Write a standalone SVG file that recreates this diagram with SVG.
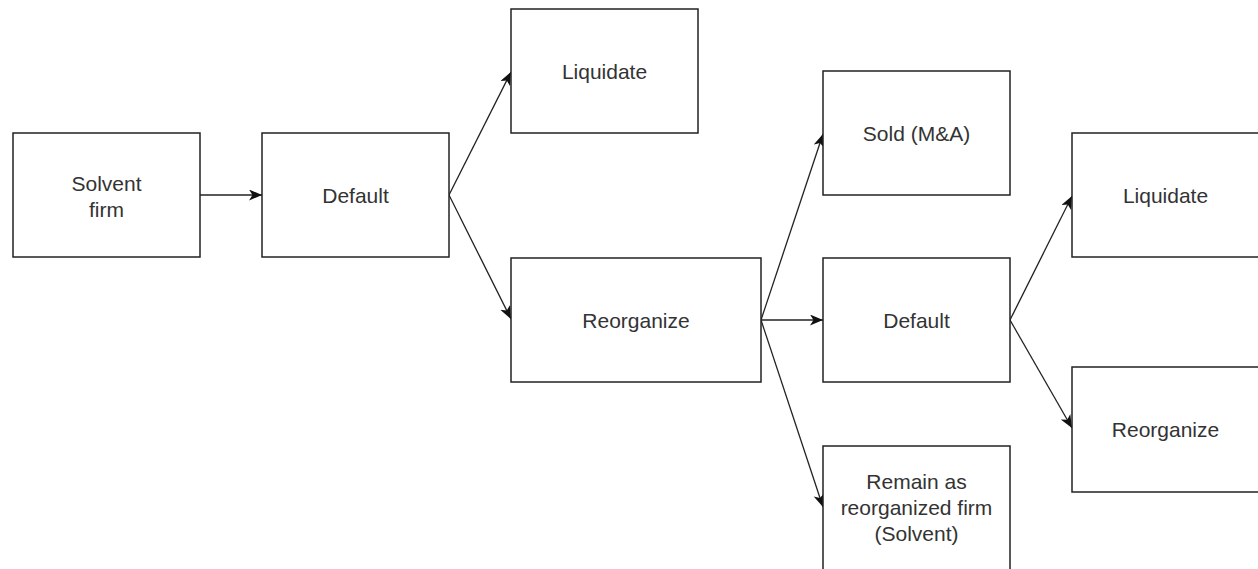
<svg xmlns="http://www.w3.org/2000/svg" width="1258" height="569" viewBox="0 0 1258 569">
  <style>
    .box { fill: #ffffff; stroke: #222222; stroke-width: 1.5; }
    .lbl { font-family: "Liberation Sans", Arial, sans-serif; font-size: 21px; fill: #333333; text-anchor: middle; }
    .edge { fill: none; stroke: #222222; stroke-width: 1.3; }
  </style>
  <defs>
    <marker id="arrow" markerUnits="userSpaceOnUse" markerWidth="14" markerHeight="12" refX="13" refY="5.5" orient="auto">
      <path d="M0,0 L13,5.5 L0,11 L3.5,5.5 Z" fill="#111111"/>
    </marker>
  </defs>
  <rect x="0" y="0" width="1258" height="569" fill="#ffffff"/>

  <g id="connectors">
    <line class="edge" x1="200" y1="195" x2="262" y2="195" marker-end="url(#arrow)"/>
    <line class="edge" x1="449" y1="195" x2="511" y2="72" marker-end="url(#arrow)"/>
    <line class="edge" x1="449" y1="195" x2="511" y2="319" marker-end="url(#arrow)"/>
    <line class="edge" x1="761" y1="320" x2="823" y2="134" marker-end="url(#arrow)"/>
    <line class="edge" x1="761" y1="320" x2="823" y2="320" marker-end="url(#arrow)"/>
    <line class="edge" x1="761" y1="320" x2="823" y2="507" marker-end="url(#arrow)"/>
    <line class="edge" x1="1010" y1="320" x2="1072" y2="196" marker-end="url(#arrow)"/>
    <line class="edge" x1="1010" y1="320" x2="1072" y2="428" marker-end="url(#arrow)"/>
  </g>

  <g id="node-solvent">
    <rect class="box" x="13" y="133" width="187" height="124"/>
    <text class="lbl" x="106.5" y="191">Solvent</text>
    <text class="lbl" x="106.5" y="217">firm</text>
  </g>
  <g id="node-default1">
    <rect class="box" x="262" y="133" width="187" height="124"/>
    <text class="lbl" x="355.5" y="202.5">Default</text>
  </g>
  <g id="node-liquidate1">
    <rect class="box" x="511" y="9" width="187" height="124"/>
    <text class="lbl" x="604.5" y="79">Liquidate</text>
  </g>
  <g id="node-reorganize1">
    <rect class="box" x="511" y="258" width="250" height="124"/>
    <text class="lbl" x="636" y="327.5">Reorganize</text>
  </g>
  <g id="node-sold">
    <rect class="box" x="823" y="71" width="187" height="124"/>
    <text class="lbl" x="916.5" y="140.5">Sold (M&amp;A)</text>
  </g>
  <g id="node-default2">
    <rect class="box" x="823" y="258" width="187" height="124"/>
    <text class="lbl" x="916.5" y="327.5">Default</text>
  </g>
  <g id="node-remain">
    <rect class="box" x="823" y="446" width="187" height="124"/>
    <text class="lbl" x="916.5" y="488.5">Remain as</text>
    <text class="lbl" x="916.5" y="514.5">reorganized firm</text>
    <text class="lbl" x="916.5" y="540.5">(Solvent)</text>
  </g>
  <g id="node-liquidate2">
    <rect class="box" x="1072" y="133" width="187" height="124"/>
    <text class="lbl" x="1165.5" y="202.5">Liquidate</text>
  </g>
  <g id="node-reorganize2">
    <rect class="box" x="1072" y="367" width="187" height="125"/>
    <text class="lbl" x="1165.5" y="437">Reorganize</text>
  </g>
</svg>
